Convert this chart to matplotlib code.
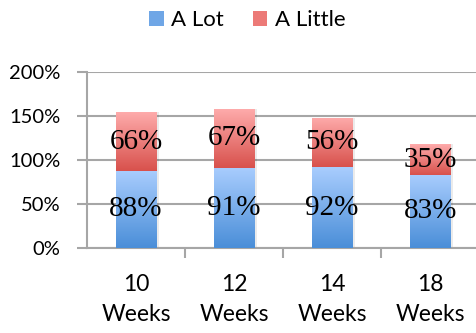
import numpy as np
import matplotlib
matplotlib.use("Agg")
import matplotlib.pyplot as plt
from matplotlib.colors import LinearSegmentedColormap
from matplotlib.patches import Patch
from matplotlib.ticker import FuncFormatter

categories = ["10\nWeeks", "12\nWeeks", "14\nWeeks", "18\nWeeks"]
a_lot = [88, 91, 92, 83]
a_little = [66, 67, 56, 35]
series_names = ["A Lot", "A Little"]
y_ticks = [0, 50, 100, 150, 200]

SANS = ["Lato", "DejaVu Sans"]
SERIF = ["Liberation Serif", "DejaVu Serif"]
GRID = "#a6a6a6"

blue_cmap = LinearSegmentedColormap.from_list("blue", ["#4a8ed8", "#a9cdfe"])
red_cmap = LinearSegmentedColormap.from_list("red", ["#d8514c", "#feabab"])

fig = plt.figure(figsize=(4.76, 3.33), dpi=100)
ax = fig.add_axes([0.183, 0.2553, 0.8235, 0.5285])

x = np.arange(len(categories))
width = 0.41

bars_lot = ax.bar(x, a_lot, width, color="none", edgecolor="none", zorder=3)
bars_little = ax.bar(x, a_little, width, bottom=a_lot, color="none",
                     edgecolor="none", zorder=3)

grad = np.linspace(0, 1, 256).reshape(-1, 1)


def fill_gradient(bars, cmap):
    for b in bars:
        x0, y0 = b.get_x(), b.get_y()
        w, h = b.get_width(), b.get_height()
        # soft drop shadow on the right
        ax.add_patch(plt.Rectangle((x0 + 0.025, y0), w, h, color="#000000",
                                   alpha=0.08, lw=0, zorder=2))
        im = ax.imshow(grad, cmap=cmap, origin="lower", aspect="auto",
                       extent=[x0, x0 + w, y0, y0 + h], zorder=3,
                       interpolation="bilinear")
        im.set_clip_path(b)


fill_gradient(bars_lot, blue_cmap)
fill_gradient(bars_little, red_cmap)

for bars, vals in ((bars_lot, a_lot), (bars_little, a_little)):
    for b, v in zip(bars, vals):
        ax.text(b.get_x() + b.get_width() / 2, b.get_y() + b.get_height() / 2,
                f"{v}%", ha="center", va="center", fontsize=21,
                family=SERIF, color="#000000", zorder=5)

ax.set_xlim(-0.5, len(categories) - 0.5)
ax.set_ylim(0, 200)
ax.set_yticks(y_ticks)
ax.yaxis.set_major_formatter(FuncFormatter(lambda v, _: f"{v:.0f}%"))
ax.yaxis.grid(True, color=GRID, lw=1.5, zorder=0)
ax.set_axisbelow(True)

ax.set_xticks(x)
ax.set_xticklabels(categories, family=SANS, fontsize=16.5, linespacing=1.5)
ax.set_xticks(np.arange(0.5, len(categories) - 0.5, 1), minor=True)
ax.tick_params(axis="x", which="major", length=0, pad=19)
ax.tick_params(axis="x", which="minor", length=7, width=1.5, color=GRID)
ax.tick_params(axis="y", length=7, width=1.5, color=GRID, pad=12,
               labelsize=14.5)
for lab in ax.get_yticklabels():
    lab.set_family(SANS)

for side in ("top", "right"):
    ax.spines[side].set_visible(False)
for side in ("left", "bottom"):
    ax.spines[side].set_color(GRID)
    ax.spines[side].set_linewidth(1.5)

handles = [Patch(facecolor="#6fa6e6", edgecolor="none"),
           Patch(facecolor="#ec7a77", edgecolor="none")]
fig.legend(handles, series_names, loc="center", bbox_to_anchor=(0.52, 0.94),
           ncol=2, frameon=False, prop={"family": SANS, "size": 16},
           handlelength=0.65, handleheight=0.65, handletextpad=0.35,
           columnspacing=1.3)

fig.savefig("out.png", dpi=100)
